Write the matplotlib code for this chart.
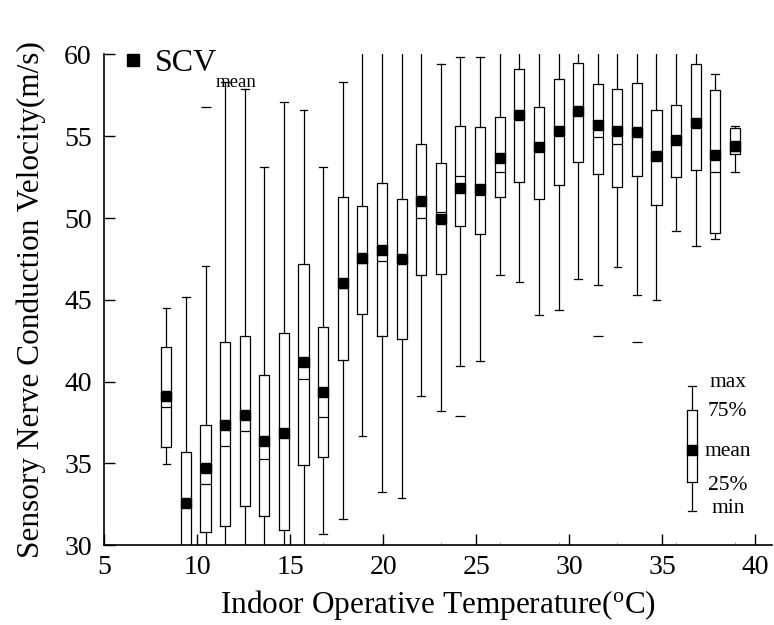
import matplotlib
matplotlib.use('Agg')
import matplotlib.pyplot as plt
from matplotlib.lines import Line2D

plt.rcParams['font.family'] = ['Liberation Serif', 'DejaVu Serif']
plt.rcParams['mathtext.fontset'] = 'custom'
plt.rcParams['mathtext.rm'] = 'Liberation Serif'
plt.rcParams['mathtext.it'] = 'Liberation Serif:italic'

# bin centres (indoor operative temperature, degC)
temps = [8.34, 9.37, 10.44, 11.50, 12.56, 13.60, 14.64, 15.71, 16.76, 17.82,
         18.88, 19.93, 20.98, 22.04, 23.09, 24.14, 25.21, 26.27, 27.32, 28.36,
         29.43, 30.48, 31.53, 32.59, 33.64, 34.69, 35.75, 36.80, 37.85, 38.91]

scv_min = [34.99, 27.0, 29.0, 27.0, 27.5, 28.0, 28.0, 28.5, 30.71, 31.6,
           36.7, 33.28, 32.87, 39.1, 38.23, 40.98, 41.28, 46.5, 46.09, 44.07,
           44.4, 46.29, 45.89, 46.99, 45.27, 45.01, 49.21, 48.29, 48.72, 52.81]
scv_q1 = [36.0, 29.0, 30.81, 31.2, 32.4, 31.8, 30.92, 34.9, 35.38, 41.3,
          44.11, 42.79, 42.6, 46.5, 46.6, 49.49, 49.0, 51.3, 52.18, 51.18,
          52.0, 53.4, 52.71, 51.91, 52.59, 50.81, 52.53, 52.91, 49.1, 53.91]
scv_med = [38.47, 32.4, 33.75, 36.05, 37.0, 35.3, 36.8, 40.14, 37.86, 45.7,
           47.23, 47.39, 47.23, 50.02, 50.37, 52.59, 51.4, 52.79, 56.2, 54.09,
           55.07, 56.3, 54.97, 54.5, 55.07, 53.58, 54.56, 55.58, 52.79, 54.09]
scv_mean = [39.1, 32.57, 34.75, 37.35, 37.98, 36.37, 36.88, 41.22, 39.37, 46.03,
            47.56, 48.04, 47.52, 51.04, 49.94, 51.83, 51.77, 53.69, 56.29, 54.34,
            55.34, 56.54, 55.68, 55.34, 55.25, 53.81, 54.77, 55.78, 53.87, 54.4]
scv_q3 = [42.1, 35.68, 37.35, 42.4, 42.81, 40.4, 43.0, 47.19, 43.32, 51.3,
          50.71, 52.14, 51.18, 54.5, 53.38, 55.6, 55.54, 56.19, 59.08, 56.8,
          58.49, 59.49, 58.21, 57.9, 58.23, 56.58, 56.88, 59.39, 57.8, 55.5]
scv_max = [44.52, 45.19, 47.09, 58.33, 57.86, 53.1, 57.09, 56.6, 53.1, 58.29,
           63.0, 63.0, 63.0, 63.0, 59.41, 59.82, 59.82, 63.0, 63.0, 63.0,
           63.0, 63.0, 63.0, 63.0, 63.0, 63.0, 63.0, 63.0, 58.8, 55.6]
outliers = {2: [56.8], 15: [37.9], 22: [42.81], 24: [42.4]}

# key drawing (schematic box)
key_x = 36.62
key_stats = {'whislo': 32.1, 'q1': 33.85, 'mean': 35.82, 'q3': 38.26, 'whishi': 39.73}
key_labels = ['max', '75%', 'mean', '25%', 'min']
key_label_y = [39.92, 38.16, 35.76, 33.64, 32.28]

stats = []
for i in range(len(temps)):
    stats.append({'whislo': scv_min[i], 'q1': scv_q1[i], 'med': scv_med[i],
                  'mean': scv_mean[i], 'q3': scv_q3[i], 'whishi': scv_max[i],
                  'fliers': outliers.get(i, [])})

fig = plt.figure(figsize=(7.74, 6.25), dpi=100)
ax = fig.add_axes([0.1348, 0.1275, 0.8626, 0.7855])

box_style = dict(boxprops=dict(color='black', lw=0.9),
                 whiskerprops=dict(color='black', lw=0.9),
                 capprops=dict(color='black', lw=0.9),
                 medianprops=dict(color='black', lw=0.9),
                 meanprops=dict(marker='s', markerfacecolor='black', markeredgecolor='black',
                                markersize=7.2),
                 flierprops=dict(marker='_', markeredgecolor='black', markersize=7, mew=0.9))

ax.bxp(stats, positions=temps, widths=0.54, capwidths=0.42, showmeans=True,
       showfliers=True, manage_ticks=False, **box_style)

key = dict(key_stats)
key['med'] = key_stats['mean']
key['fliers'] = []
ax.bxp([key], positions=[key_x], widths=0.54, capwidths=0.42, showmeans=True,
       manage_ticks=False, **box_style)
for lab, yy in zip(key_labels, key_label_y):
    ax.text(key_x + 1.9, yy, lab, ha='center', va='center', fontsize=15.5)

ax.set_xlim(5.15, 40.9)
ax.set_ylim(30, 60)
ax.set_xticks([5, 10, 15, 20, 25, 30, 35, 40])
ax.set_yticks([30, 35, 40, 45, 50, 55, 60])
ax.set_xticks(temps[2::3], minor=True)
ax.tick_params(which='major', direction='in', length=8, width=1, labelsize=20, pad=7)
ax.tick_params(axis='y', pad=9)
ax.tick_params(axis='x', which='minor', direction='in', length=2.5, color='#999999')
for s in ['top', 'right']:
    ax.spines[s].set_visible(False)
for s in ['left', 'bottom']:
    ax.spines[s].set_linewidth(1.2)

ax.set_xlabel(r'Indoor Operative Temperature($^{\mathrm{o}}$C)', fontsize=22.5, labelpad=6)
ax.set_ylabel('Sensory Nerve Conduction Velocity(m/s)', fontsize=22.5, labelpad=13)

handle = Line2D([], [], ls='none', marker='s', color='black', markersize=8.5)
leg = ax.legend([handle], ['SCV'], loc='upper left', frameon=False,
                fontsize=23, handletextpad=0.2, handlelength=1.0,
                bbox_to_anchor=(-0.01, 1.05), borderaxespad=0.2)
sub = ax.annotate('mean', xy=(1, 0), xycoords=leg.get_texts()[0], xytext=(-1, -6),
                  textcoords='offset points', fontsize=13.5, ha='left', va='baseline')
sub.set_zorder(leg.get_zorder() + 1)

fig.savefig('out.png', dpi=100)
